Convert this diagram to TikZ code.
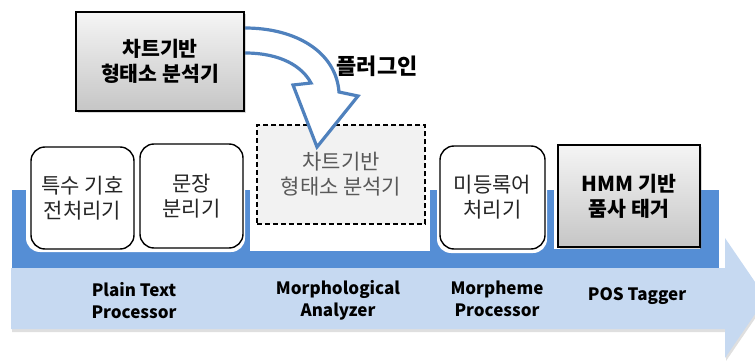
\documentclass[tikz,border=0pt]{standalone}
\usepackage{fontspec}
\setmainfont{Noto Sans CJK KR}
\usetikzlibrary{shadows}
\definecolor{darkblue}{HTML}{558ED5}
\definecolor{lightblue}{HTML}{C6D9F1}
\definecolor{arrowblue}{HTML}{4F81BD}
\definecolor{dashfill}{HTML}{F2F2F2}
\begin{document}
\begin{tikzpicture}[x=1pt,y=-1pt,
  roundbox/.style={draw=black, line width=1.4pt, rounded corners=14pt, fill=white, align=center, inner sep=0pt, text=black!85, font=\fontsize{21}{25}\selectfont},
  graybox/.style={draw=black, line width=1.8pt, top color=gray!8, bottom color=gray!45, align=center, inner sep=0pt, font=\bfseries\fontsize{20.5}{25}\selectfont, drop shadow={shadow xshift=2pt, shadow yshift=-2pt, opacity=0.3}},
  dashbox/.style={draw=black, line width=1.2pt, dash pattern=on 5pt off 3pt, fill=dashfill, align=center, inner sep=0pt, text=black!65, font=\fontsize{21}{25}\selectfont},
  stagelabel/.style={align=center, inner sep=0pt, font=\bfseries\fontsize{17}{22}\selectfont}
]
\useasboundingbox (0,0) rectangle (755,361);
% light blue process arrow
\fill[lightblue, drop shadow={shadow xshift=1pt, shadow yshift=-3pt, opacity=0.25}]
  (11,268) -- (725,268) -- (725,238) -- (766,298) -- (725,358) -- (725,329) -- (11,329) -- cycle;
% dark blue tray
\fill[darkblue] (12,190) rectangle (719,268);
\fill[white, rounded corners=14pt] (26,150) rectangle (245,252);
\fill[white] (250,150) rectangle (430,251);
\fill[white, rounded corners=14pt] (437,150) rectangle (547,253);
\fill[white] (554,150) rectangle (700,249);
% boxes
\node[roundbox, minimum width=103pt, minimum height=102pt] (spec) at (82.5,198) {특수 기호\\전처리기};
\node[roundbox, minimum width=103pt, minimum height=104pt] (sent) at (191.5,196) {문장\\분리기};
\node[roundbox, minimum width=105pt, minimum height=103pt] (unk) at (492.5,197.5) {미등록어\\처리기};
\node[graybox, minimum width=142pt, minimum height=102pt] (hmm) at (629,196) {HMM 기반\\품사 태거};
\node[dashbox, minimum width=168pt, minimum height=99pt] (slot) at (341,174.5) {차트기반\\형태소 분석기};
% plugin arrow
\draw[arrowblue, line width=3.2pt, fill=white, line join=miter]
  (245,28) .. controls (296,28) and (336,52) .. (339,92) -- (358,96) -- (317,147) -- (293,85) -- (311,83)
  .. controls (302,66) and (280,53) .. (245,53);
\node[graybox, minimum width=168pt, minimum height=99pt] (top) at (160,61.5) {차트기반\\형태소 분석기};
\node[font=\bfseries\fontsize{22}{24}\selectfont, inner sep=0pt] (plug) at (377,66) {플러그인};
% stage labels
\node[stagelabel] (l1) at (134,301) {Plain Text\\Processor};
\node[stagelabel] (l2) at (338,300) {Morphological\\Analyzer};
\node[stagelabel] (l3) at (497,299) {Morpheme\\Processor};
\node[stagelabel] (l4) at (637,296) {POS Tagger};
\end{tikzpicture}
\end{document}
